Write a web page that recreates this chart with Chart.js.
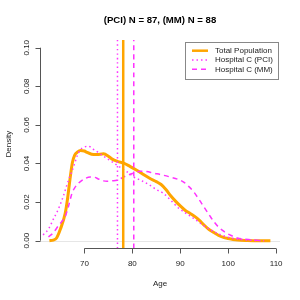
<!DOCTYPE html>
<html>
<head>
<meta charset="utf-8">
<script src="https://cdn.jsdelivr.net/npm/chart.js@4"></script>
<style>
  html, body { margin: 0; padding: 0; background: #fff; }
  #wrap { width: 300px; height: 300px; }
</style>
</head>
<body>
<div id="wrap"><canvas id="densityChart" width="300" height="300"></canvas></div>
<script>
// =================================== Age density: total vs Hospital C ===================================
const chartTitle = "(PCI) N = 87, (MM) N = 88";
const seriesLabels = ["Total Population", "Hospital C (PCI)", "Hospital C (MM)"];

// total population
const totalAges = [62.7, 63.5, 64.2, 65, 66, 66.5, 67, 67.5, 68, 68.5, 69.2, 70, 70.5, 71.5, 72.6, 74, 75, 75.7, 77, 78.2, 79.5, 81, 82.5, 83.7, 85, 86, 87, 88, 89, 90, 91, 92, 93, 94, 95, 96, 97, 98, 99, 100, 101, 102, 104, 106, 108.8];
const totalDensity = [0, 0.0003, 0.0014, 0.006, 0.0142, 0.022, 0.032, 0.0405, 0.0445, 0.0458, 0.0467, 0.0465, 0.0458, 0.0448, 0.0446, 0.045, 0.0438, 0.0424, 0.041, 0.0402, 0.0385, 0.0364, 0.034, 0.0322, 0.0306, 0.0291, 0.0265, 0.0233, 0.0205, 0.018, 0.0158, 0.0142, 0.0126, 0.0105, 0.008, 0.0058, 0.0042, 0.0027, 0.0017, 0.0011, 0.0006, 0.0003, 0.0001, 0, 0];

// Hospital C (PCI)
const pciAges = [61.4, 62.5, 63.5, 64.5, 65.6, 66.5, 67.7, 68.5, 69.1, 70, 70.8, 71.8, 73.3, 74.5, 75.7, 77.5, 79, 80.3, 82, 83.7, 85, 86.5, 88, 89.3, 91, 92.8, 94.5, 96.3, 98, 99.8, 101.5, 103.3, 105, 107];
const pciDensity = [0.003, 0.006, 0.011, 0.016, 0.023, 0.03, 0.038, 0.044, 0.047, 0.0485, 0.049, 0.0475, 0.045, 0.043, 0.041, 0.038, 0.0355, 0.033, 0.031, 0.0287, 0.0265, 0.0245, 0.021, 0.0176, 0.0145, 0.0116, 0.0085, 0.0056, 0.0035, 0.0019, 0.001, 0.0005, 0.0002, 0];

// Hospital C (MM)
const mmAges = [62.5, 63.5, 64.5, 65.3, 66, 66.7, 67.4, 68, 68.7, 70, 71.2, 72.2, 72.9, 74, 74.7, 75.8, 76.8, 77.8, 78.9, 80.3, 81.7, 83, 84.4, 86, 87.9, 89.5, 90.7, 91.8, 92.8, 94, 94.9, 96, 97, 98, 99.1, 100.5, 101.9, 103.3, 104.7, 106, 107.5];
const mmDensity = [0.002, 0.004, 0.0075, 0.01, 0.0125, 0.018, 0.0245, 0.0275, 0.0296, 0.032, 0.033, 0.0328, 0.032, 0.031, 0.0308, 0.031, 0.0313, 0.0325, 0.0338, 0.035, 0.036, 0.0358, 0.035, 0.0342, 0.033, 0.0318, 0.0304, 0.028, 0.0253, 0.021, 0.0176, 0.0135, 0.0099, 0.007, 0.0048, 0.0028, 0.0014, 0.0008, 0.0005, 0.0002, 0];

// mean ages (vertical lines): total, PCI, MM
const meanAges = [78.1, 76.9, 80.3];

const xTicks = [70, 80, 90, 100, 110];
const yTicks = [0, 0.02, 0.04, 0.06, 0.08, 0.1];

const X_MIN = 60.74, X_MAX = 110.8;
const Y_MIN = -0.004, Y_MAX = 0.104;

const ORANGE = "#FFA500";
const MAGENTA = "#FF33FF";
const FONT = '"Liberation Sans", Arial, sans-serif';

function toPoints(xs, ys) {
  return xs.map((x, i) => ({ x: x, y: ys[i] }));
}

function vline(x) {
  return [{ x: x, y: Y_MIN }, { x: x, y: Y_MAX }];
}

// R-style axes, title, labels and legend
const rStylePlugin = {
  id: "rStyle",
  beforeDatasetsDraw(chart) {
    const ctx = chart.ctx;
    const ys = chart.scales.y;
    ctx.save();
    ctx.strokeStyle = "#e6e6e6";
    ctx.lineWidth = 1;
    ctx.beginPath();
    ctx.moveTo(chart.chartArea.left, Math.round(ys.getPixelForValue(0)) + 0.5);
    ctx.lineTo(chart.chartArea.right, Math.round(ys.getPixelForValue(0)) + 0.5);
    ctx.stroke();
    ctx.restore();
  },
  afterDraw(chart) {
    const ctx = chart.ctx;
    const xs = chart.scales.x, ys = chart.scales.y;
    const area = chart.chartArea;
    ctx.save();
    ctx.strokeStyle = "#555";
    ctx.lineWidth = 1;
    ctx.fillStyle = "#222";

    // bottom axis
    const axisY = Math.round(area.bottom) + 0.5;
    ctx.beginPath();
    ctx.moveTo(xs.getPixelForValue(xTicks[0]), axisY);
    ctx.lineTo(xs.getPixelForValue(xTicks[xTicks.length - 1]), axisY);
    xTicks.forEach((t) => {
      const px = Math.round(xs.getPixelForValue(t)) + 0.5;
      ctx.moveTo(px, axisY);
      ctx.lineTo(px, axisY + 5);
    });
    ctx.stroke();
    ctx.font = "8px " + FONT;
    ctx.textAlign = "center";
    ctx.textBaseline = "middle";
    xTicks.forEach((t) => {
      ctx.fillText(String(t), xs.getPixelForValue(t), 264);
    });
    ctx.fillText("Age", (area.left + area.right) / 2, 284);

    // left axis
    const axisX = Math.round(area.left) + 0.5;
    ctx.beginPath();
    ctx.moveTo(axisX, ys.getPixelForValue(yTicks[0]));
    ctx.lineTo(axisX, ys.getPixelForValue(yTicks[yTicks.length - 1]));
    yTicks.forEach((t) => {
      const py = Math.round(ys.getPixelForValue(t)) + 0.5;
      ctx.moveTo(axisX, py);
      ctx.lineTo(axisX - 5, py);
    });
    ctx.stroke();
    yTicks.forEach((t) => {
      ctx.save();
      ctx.translate(27, ys.getPixelForValue(t));
      ctx.rotate(-Math.PI / 2);
      ctx.fillText(t.toFixed(2), 0, 0);
      ctx.restore();
    });
    ctx.save();
    ctx.translate(9, (area.top + area.bottom) / 2);
    ctx.rotate(-Math.PI / 2);
    ctx.fillText("Density", 0, 0);
    ctx.restore();

    // title
    ctx.font = "bold 9.6px " + FONT;
    ctx.fillStyle = "#000";
    ctx.fillText(chartTitle, (area.left + area.right) / 2, 20);

    // legend
    const lx = 185.5, ly = 42.5, lw = 93, lh = 37;
    ctx.fillStyle = "#fff";
    ctx.fillRect(lx, ly, lw, lh);
    ctx.strokeStyle = "#888";
    ctx.strokeRect(lx, ly, lw, lh);
    const styles = [
      { color: ORANGE, width: 2.5, dash: [] },
      { color: MAGENTA, width: 1.5, dash: [1.5, 3] },
      { color: MAGENTA, width: 1.5, dash: [5, 4] },
    ];
    ctx.font = "8px " + FONT;
    ctx.textAlign = "left";
    seriesLabels.forEach((label, i) => {
      const yy = 50.7 + i * 9.3;
      ctx.strokeStyle = styles[i].color;
      ctx.lineWidth = styles[i].width;
      ctx.setLineDash(styles[i].dash);
      ctx.beginPath();
      ctx.moveTo(192, yy);
      ctx.lineTo(208, yy);
      ctx.stroke();
      ctx.setLineDash([]);
      ctx.fillStyle = "#222";
      ctx.fillText(label, 215, yy);
    });
    ctx.restore();
  },
};

const ctx = document.getElementById("densityChart").getContext("2d");

new Chart(ctx, {
  type: "line",
  data: {
    datasets: [
      {
        label: seriesLabels[0],
        data: toPoints(totalAges, totalDensity),
        borderColor: ORANGE,
        borderWidth: 3,
        order: 6,
      },
      {
        label: seriesLabels[1],
        data: toPoints(pciAges, pciDensity),
        borderColor: MAGENTA,
        borderWidth: 1.5,
        borderDash: [1.5, 3],
        order: 5,
      },
      {
        label: seriesLabels[2],
        data: toPoints(mmAges, mmDensity),
        borderColor: MAGENTA,
        borderWidth: 1.5,
        borderDash: [5, 4],
        order: 4,
      },
      {
        label: "mean PCI",
        data: vline(meanAges[1]),
        borderColor: MAGENTA,
        borderWidth: 1.5,
        borderDash: [1.5, 3],
        order: 3,
      },
      {
        label: "mean MM",
        data: vline(meanAges[2]),
        borderColor: MAGENTA,
        borderWidth: 1.5,
        borderDash: [5, 4],
        order: 2,
      },
      {
        label: "mean total",
        data: vline(meanAges[0]),
        borderColor: ORANGE,
        borderWidth: 2.5,
        order: 1,
      },
    ],
  },
  options: {
    responsive: false,
    animation: false,
    layout: {
      padding: { left: 40, right: 20, top: 40, bottom: 51.6 },
    },
    elements: {
      point: { radius: 0, hoverRadius: 0 },
      line: { cubicInterpolationMode: "monotone", fill: false },
    },
    scales: {
      x: { type: "linear", min: X_MIN, max: X_MAX, display: false },
      y: { type: "linear", min: Y_MIN, max: Y_MAX, display: false },
    },
    plugins: {
      legend: { display: false },
      tooltip: { enabled: false },
    },
  },
  plugins: [rStylePlugin],
});
</script>
</body>
</html>
